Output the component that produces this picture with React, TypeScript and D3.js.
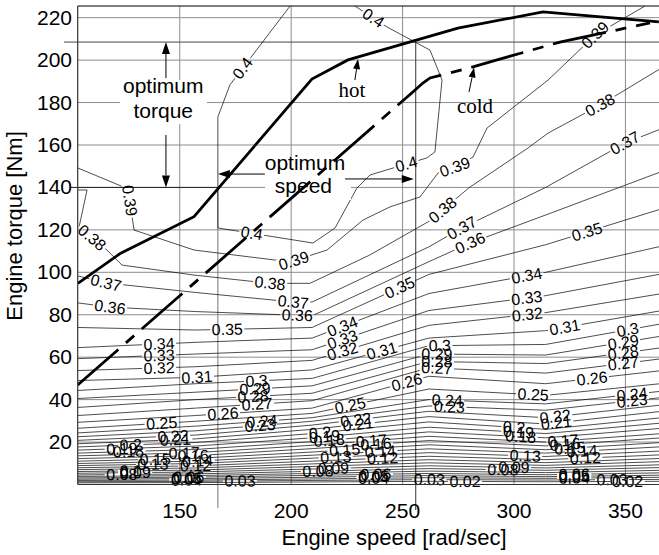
import React from "react";
import * as d3 from "d3";

const W = 659;
const H = 555;
const FONT = "'Liberation Sans', Arial, sans-serif";

// speeds [rad/s] at which the lower efficiency contours are read
const SPEED_NODES = [104.2, 157.1, 209.4, 261.8, 314.2, 366.5];

const LOW_LEVELS = [
  0.02, 0.03, 0.04, 0.05, 0.06, 0.07, 0.08, 0.09, 0.1, 0.11, 0.12, 0.13, 0.14, 0.15, 0.16, 0.17,
  0.18, 0.19, 0.2, 0.21, 0.22, 0.23, 0.24, 0.25, 0.26, 0.27, 0.28, 0.29, 0.3, 0.31, 0.32, 0.33,
];

// torque [Nm] of each level at SPEED_NODES
const LOW_TORQUES = [
  [0.8, 0.9, 1.2, 1.5, 1.3, 1.5],
  [1.3, 1.5, 1.9, 2.3, 2.1, 2.4],
  [1.9, 2.1, 2.6, 3.2, 2.9, 3.4],
  [2.5, 2.8, 3.4, 4.2, 3.7, 4.4],
  [3.1, 3.5, 4.3, 5.2, 4.6, 5.5],
  [3.8, 4.2, 5.2, 6.3, 5.6, 6.7],
  [4.5, 5.0, 6.2, 7.5, 6.7, 8.0],
  [5.3, 5.9, 7.3, 8.8, 7.8, 9.3],
  [6.1, 6.8, 8.5, 10.2, 9.0, 10.8],
  [7.0, 7.8, 9.7, 11.7, 10.3, 12.3],
  [7.9, 8.8, 11.0, 13.3, 11.7, 14.0],
  [8.9, 9.9, 12.4, 15.0, 13.2, 15.8],
  [9.9, 11.0, 13.8, 16.8, 14.8, 17.8],
  [11.0, 12.3, 15.3, 18.7, 16.4, 19.8],
  [12.2, 13.6, 16.9, 20.7, 18.2, 22.0],
  [13.5, 15.0, 18.5, 22.7, 20.0, 24.0],
  [14.8, 16.5, 20.2, 24.8, 22.0, 26.5],
  [16.2, 18.1, 22.0, 27.0, 24.0, 29.0],
  [17.7, 19.8, 24.0, 29.5, 26.0, 31.5],
  [19.2, 21.5, 26.0, 32.0, 28.5, 34.5],
  [20.8, 23.3, 28.0, 34.5, 31.5, 37.5],
  [22.5, 25.3, 29.8, 37.0, 35.0, 41.0],
  [24.3, 27.5, 31.5, 40.0, 38.0, 44.0],
  [26.5, 29.8, 33.5, 45.0, 42.0, 47.6],
  [29.3, 32.5, 36.0, 51.0, 47.5, 53.7],
  [32.5, 36.0, 39.5, 55.0, 52.5, 59.3],
  [36.3, 40.0, 43.0, 58.0, 57.0, 64.5],
  [40.5, 43.5, 46.5, 61.5, 61.0, 70.0],
  [44.3, 47.5, 50.0, 65.4, 66.0, 75.8],
  [49.0, 50.5, 54.0, 69.0, 72.5, 82.0],
  [53.7, 55.5, 58.5, 75.0, 81.0, 90.0],
  [59.3, 61.5, 63.5, 82.0, 89.0, 99.3],
];

// upper contours, [speed, torque]
const LEVEL_034 = [[104.2, 64.5], [157.1, 67], [209.4, 69], [261.8, 90], [314.2, 100], [366.5, 112.4]];
const LEVEL_035 = [[104.2, 74], [157.1, 72.8], [209.4, 74], [261.8, 99], [314.2, 113], [366.5, 130]];
const LEVEL_036 = [[104.2, 85.6], [118.7, 83.6], [157.1, 81.5], [209.4, 79.5], [261.8, 105], [280.3, 113.8], [314.2, 127], [366.5, 147.6]];
const LEVEL_037 = [[104.2, 98.3], [116.9, 95], [157.1, 90.5], [200.9, 86], [209.4, 86], [261.8, 112], [276.6, 120.9], [314.2, 140], [349.8, 160.9], [366.5, 167.8]];
const LEVEL_038 = [[104.2, 138.8], [108.4, 138.8], [104.8, 121.3], [117.3, 110.5], [124.1, 103.4], [156.4, 98.7], [190.5, 94.8], [208.4, 94.8], [235, 108], [261.8, 124], [280, 140], [306.3, 158.6], [315.3, 165.6], [338.6, 178.8], [366.5, 196.5]];
const LEVEL_039 = [[104.2, 149.2], [126.8, 139.3], [129.5, 119.9], [156.4, 110.5], [199.5, 104.9], [216.1, 110.5], [232.2, 124.6], [244.3, 130.8], [257.8, 135.5], [265.9, 146.8], [273.5, 149.6], [281.6, 154.3], [287.9, 168], [315.3, 190.6], [336.4, 211.8], [358.8, 225.5]];
const LEVEL_040 = [[199.5, 225.5], [172.5, 188.3], [167.1, 173.2], [167.1, 120.9], [209.8, 113.8], [219.7, 120.9], [229.5, 139.7], [235.4, 145.9], [260.9, 153.9], [264.5, 156.7], [267.7, 190.6], [262.3, 204.7], [255.6, 208.5], [243, 215.6], [228.6, 225.5]];

const HOT_LINE = [[104.3, 94.8], [123.5, 109], [156.4, 126.2], [209.3, 191.1], [225.5, 200.1], [274.8, 215.1], [313, 222.7], [365, 218]];
const COLD_LINE = [[104.2, 46.9], [254.6, 185], [259.1, 189.2], [262.3, 191.6], [281.6, 196.8], [292.4, 200.1], [320.6, 208.5], [361, 217.5]];

// contour labels: level, speed, approx torque (null = on the line at that speed)
const LABELS: [number, number, number | null][] = [
  [0.4, 173.4, 200], [0.4, 237.6, 221], [0.4, 182.3, 118.4], [0.4, 251.8, 150.6],
  [0.39, 129, 134], [0.38, 109.7, 115.2], [0.39, 201.8, 103.4], [0.38, 190.5, 94.8],
  [0.37, 200.9, 86], [0.36, 202.7, 79.9], [0.35, 171.3, null], [0.36, 118.7, 83.6], [0.37, 116.9, 95],
  [0.34, 140.7, null], [0.33, 140.7, null], [0.32, 140.7, null], [0.31, 157.7, null],
  [0.3, 184.5, null], [0.29, 183.8, null], [0.28, 182.9, null], [0.27, 184.7, null], [0.26, 169.4, null],
  [0.24, 186.9, null], [0.23, 186, null], [0.25, 141.9, null], [0.22, 147, null], [0.21, 148, null],
  [0.2, 128, null], [0.19, 124, null], [0.18, 127, null], [0.17, 152, null], [0.16, 156, null],
  [0.15, 139, null], [0.13, 138, null], [0.14, 158, null], [0.12, 157, null], [0.1, 128, null],
  [0.09, 130, null], [0.08, 124, null], [0.06, 154, null], [0.05, 153, null], [0.04, 153, null], [0.03, 177, null],
  [0.39, 273.5, 149.6], [0.38, 266.8, 130.8], [0.37, 276.6, 120.9], [0.36, 280.3, 113.8], [0.35, 248.7, null],
  [0.39, 336.4, 211.8], [0.38, 338.6, 178.8], [0.37, 349.8, 160.9], [0.35, 332.7, null],
  [0.34, 305.7, null], [0.33, 305.7, null], [0.32, 306, null], [0.31, 322.8, null], [0.3, 351, null],
  [0.29, 349, null], [0.28, 349, null], [0.27, 349, null], [0.26, 335, null], [0.24, 353, null], [0.23, 353, null],
  [0.3, 266.7, null], [0.29, 265.4, null], [0.28, 265.4, null], [0.27, 265.4, null], [0.26, 251.9, null],
  [0.24, 270, null], [0.23, 271, null], [0.31, 240.7, null], [0.34, 223, null], [0.33, 223, null], [0.32, 223, null],
  [0.25, 226.5, null], [0.22, 229, null], [0.21, 230, null], [0.2, 213, null], [0.19, 215, null], [0.18, 217, null],
  [0.17, 236, null], [0.16, 238, null], [0.15, 224, null], [0.13, 220, null], [0.14, 240, null], [0.12, 241, null],
  [0.09, 219, null], [0.08, 212, null], [0.06, 238, null], [0.05, 237, null], [0.04, 237, null], [0.03, 262, null], [0.02, 278, null],
  [0.25, 308.6, null], [0.22, 318.5, null], [0.21, 319, null], [0.2, 300, null], [0.19, 302, null], [0.18, 303, null],
  [0.17, 322, null], [0.16, 323, null], [0.15, 325, null], [0.13, 305, null], [0.14, 330.5, null], [0.12, 332, null],
  [0.09, 300, null], [0.08, 295, null], [0.06, 327, null], [0.05, 327, null], [0.04, 327, null], [0.03, 344, null], [0.02, 351, null],
];

const X_TICKS = [150, 200, 250, 300, 350];
const Y_TICKS = [20, 40, 60, 80, 100, 120, 140, 160, 180, 200, 220];

// optimum markers
const OPT_TORQUE = [140, 208.5];
const OPT_SPEED = [167.1, 255.9];

function interpTorque(pts: number[][], s: number) {
  for (let k = 0; k < pts.length - 1; k++) {
    const [s0, t0] = pts[k];
    const [s1, t1] = pts[k + 1];
    if ((s >= s0 && s <= s1) || (s <= s0 && s >= s1)) {
      return s1 === s0 ? t0 : t0 + ((t1 - t0) * (s - s0)) / (s1 - s0);
    }
  }
  return pts[pts.length - 1][1];
}

function textWidth(str: string, size: number) {
  let w = 0;
  for (const ch of str) w += ch === "." ? 0.278 : 0.556;
  return w * size;
}

function Arrow({ x1, y1, x2, y2, len = 12, half = 4 }: any) {
  const dx = x2 - x1, dy = y2 - y1;
  const L = Math.hypot(dx, dy);
  const ux = dx / L, uy = dy / L;
  const bx = x2 - ux * len, by = y2 - uy * len;
  const pts = [
    [x2, y2],
    [bx - uy * half, by + ux * half],
    [bx + uy * half, by - ux * half],
  ];
  return (
    <g>
      <line x1={x1} y1={y1} x2={bx} y2={by} stroke="#000" strokeWidth={1} />
      <polygon points={pts.map((p) => p.join(",")).join(" ")} fill="#000" />
    </g>
  );
}

export default function App() {
  const x = d3.scaleLinear().domain([104.2, 366.5]).range([77.7, 662.2]);
  const y = d3.scaleLinear().domain([0, 225.5]).range([484.5, 6]);
  const line = d3.line<number[]>().x((d) => x(d[0])).y((d) => y(d[1]));

  const contours = [
    ...LOW_LEVELS.map((level, i) => ({ level, pts: SPEED_NODES.map((s, j) => [s, LOW_TORQUES[i][j]]) })),
    { level: 0.34, pts: LEVEL_034 },
    { level: 0.35, pts: LEVEL_035 },
    { level: 0.36, pts: LEVEL_036 },
    { level: 0.37, pts: LEVEL_037 },
    { level: 0.38, pts: LEVEL_038 },
    { level: 0.39, pts: LEVEL_039 },
    { level: 0.4, pts: LEVEL_040 },
  ];
  const byLevel = new Map(contours.map((c) => [c.level, c]));

  const placed = LABELS.map(([level, s, t]) => {
    const c = byLevel.get(level)!;
    const px = x(s);
    const py = y(t == null ? interpTorque(c.pts, s) : t);
    let best = { d: Infinity, x: px, y: py, a: 0 };
    for (let k = 0; k < c.pts.length - 1; k++) {
      const ax = x(c.pts[k][0]), ay = y(c.pts[k][1]);
      const bx = x(c.pts[k + 1][0]), by = y(c.pts[k + 1][1]);
      const dx = bx - ax, dy = by - ay;
      const L2 = dx * dx + dy * dy || 1;
      const u = Math.max(0, Math.min(1, ((px - ax) * dx + (py - ay) * dy) / L2));
      const qx = ax + u * dx, qy = ay + u * dy;
      const d = (qx - px) ** 2 + (qy - py) ** 2;
      if (d < best.d) {
        let a = (Math.atan2(dy, dx) * 180) / Math.PI;
        if (a > 90) a -= 180;
        if (a < -90) a += 180;
        best = { d, x: qx, y: qy, a };
      }
    }
    const text = String(level);
    return { level, text, x: best.x, y: best.y, a: best.a, w: textWidth(text, 16) + 3 };
  });

  const left = x.range()[0];
  const right = x.range()[1];
  const top = y.range()[1];
  const bottom = y.range()[0];

  return (
    <svg
      width={W}
      height={H}
      style={{ position: "absolute", left: 0, top: 0, background: "#fff" }}
      fontFamily={FONT}
    >
      <defs>
        <clipPath id="plot">
          <rect x={left} y={top} width={right - left} height={bottom - top} />
        </clipPath>
        {contours.map((c, i) => (
          <mask id={`lm${i}`} key={i} maskUnits="userSpaceOnUse" x={0} y={0} width={W} height={H}>
            <rect x={0} y={0} width={W} height={H} fill="#fff" />
            {placed
              .filter((p) => p.level === c.level)
              .map((p, k) => (
                <rect
                  key={k}
                  x={-p.w / 2}
                  y={-6}
                  width={p.w}
                  height={12}
                  fill="#000"
                  transform={`translate(${p.x},${p.y}) rotate(${p.a})`}
                />
              ))}
          </mask>
        ))}
      </defs>

      {/* grid */}
      <g stroke="#8c8c8c" strokeWidth={1}>
        {Y_TICKS.map((t) => (
          <line key={t} x1={left} x2={right} y1={y(t)} y2={y(t)} />
        ))}
        {X_TICKS.map((s) => (
          <line key={s} x1={x(s)} x2={x(s)} y1={top} y2={bottom} />
        ))}
      </g>

      {/* optimum markers */}
      <line x1={x(100.7)} x2={x(OPT_SPEED[0])} y1={y(OPT_TORQUE[0])} y2={y(OPT_TORQUE[0])} stroke="#222" strokeWidth={1} />
      <line x1={x(98.1)} x2={right} y1={y(OPT_TORQUE[1])} y2={y(OPT_TORQUE[1])} stroke="#444" strokeWidth={1} />
      <line x1={x(OPT_SPEED[0])} x2={x(OPT_SPEED[0])} y1={y(OPT_TORQUE[0])} y2={y(-11)} stroke="#777" strokeWidth={1} />
      <line x1={x(OPT_SPEED[1])} x2={x(OPT_SPEED[1])} y1={y(OPT_TORQUE[1])} y2={y(-12)} stroke="#333" strokeWidth={1} />

      {/* contours */}
      <g clipPath="url(#plot)">
        {contours.map((c, i) => (
          <path key={i} d={line(c.pts) || ""} fill="none" stroke="#000" strokeWidth={0.7} mask={`url(#lm${i})`} />
        ))}
      </g>
      <g fontSize={16} textAnchor="middle" dominantBaseline="central" fill="#000">
        {placed.map((p, i) => (
          <text key={i} transform={`translate(${p.x},${p.y}) rotate(${p.a})`}>
            {p.text}
          </text>
        ))}
      </g>

      {/* annotation text */}
      <rect x={120} y={80} width={87} height={44} fill="#fff" />
      <rect x={265} y={156} width={86} height={44} fill="#fff" />
      <g fontSize={21} textAnchor="middle" fill="#000">
        <text x={x(142.6)} y={y(184.4)}>optimum</text>
        <text x={x(142.6)} y={y(172.7)}>torque</text>
        <text x={x(206.2)} y={y(148.2)}>optimum</text>
        <text x={x(205.5)} y={y(137.2)}>speed</text>
      </g>
      <g fontSize={21} textAnchor="middle" fill="#000" fontFamily="'Liberation Serif', 'Times New Roman', serif">
        <text x={x(227.3)} y={y(182.6)}>hot</text>
        <text x={x(282.5)} y={y(175)}>cold</text>
      </g>
      <Arrow x1={x(143.8)} y1={y(191.5)} x2={x(143.8)} y2={y(OPT_TORQUE[1])} />
      <Arrow x1={x(143.8)} y1={y(164.7)} x2={x(143.8)} y2={y(OPT_TORQUE[0])} />
      <Arrow x1={x(188.2)} y1={y(146.3)} x2={x(OPT_SPEED[0])} y2={y(146.3)} />
      <Arrow x1={x(224.2)} y1={y(144)} x2={x(255)} y2={y(144)} />
      <Arrow x1={x(228.6)} y1={y(190.6)} x2={x(230)} y2={y(200.5)} len={10} half={3.5} />
      <Arrow x1={x(279.8)} y1={y(185)} x2={x(282.1)} y2={y(196.5)} len={10} half={3.5} />

      {/* hot / cold optimum lines */}
      <g clipPath="url(#plot)" fill="none" stroke="#000" strokeWidth={2.8}>
        <path d={line(HOT_LINE) || ""} />
        <path d={line(COLD_LINE) || ""} strokeDasharray="54 10 11 10" />
      </g>

      {/* frame and axes */}
      <line x1={left} x2={right} y1={top} y2={top} stroke="#000" strokeWidth={1.2} />
      <line x1={left} x2={left} y1={top} y2={bottom} stroke="#333" strokeWidth={1.2} />
      <line x1={left} x2={right} y1={bottom} y2={bottom} stroke="#333" strokeWidth={1.2} />
      <g fontSize={21} fill="#000">
        {Y_TICKS.map((t) => (
          <text key={t} x={72} y={y(t) + 7} textAnchor="end">
            {t}
          </text>
        ))}
        {X_TICKS.map((s) => (
          <text key={s} x={x(s)} y={518} textAnchor="middle">
            {s}
          </text>
        ))}
      </g>
      <text x={394} y={545} fontSize={22} textAnchor="middle">
        Engine speed [rad/sec]
      </text>
      <text transform="translate(22,226) rotate(-90)" fontSize={22} textAnchor="middle">
        Engine torque [Nm]
      </text>
    </svg>
  );
}
